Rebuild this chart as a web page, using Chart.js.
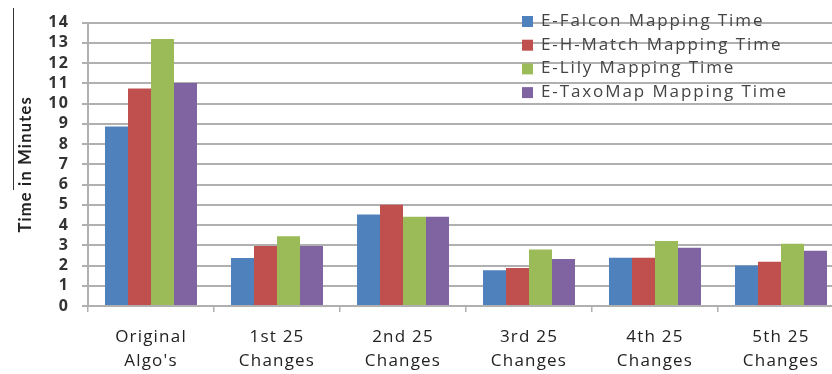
<!DOCTYPE html>
<html>
<head>
<meta charset="utf-8">
<script src="https://cdn.jsdelivr.net/npm/chart.js@4.4.0/dist/chart.umd.min.js"></script>
<style>
  html, body { margin: 0; padding: 0; background: #fff; overflow: hidden; }
  #wrap { width: 844px; height: 374px; }
</style>
</head>
<body>
<div id="wrap"><canvas id="chart" width="844" height="374"></canvas></div>
<script>
/* ---- data ---- */
var categories = [['Original', "Algo's"], ['1st 25', 'Changes'], ['2nd 25', 'Changes'],
                  ['3rd 25', 'Changes'], ['4th 25', 'Changes'], ['5th 25', 'Changes']];
var seriesNames = ['E-Falcon Mapping Time', 'E-H-Match Mapping Time', 'E-Lily Mapping Time', 'E-TaxoMap Mapping Time'];
var falcon  = [8.87, 2.37, 4.52, 1.76, 2.38, 2.0];
var hmatch  = [10.75, 2.97, 5.0, 1.88, 2.38, 2.19];
var lily    = [13.19, 3.44, 4.41, 2.79, 3.21, 3.08];
var taxomap = [11.02, 2.97, 4.41, 2.32, 2.88, 2.73];
var yTicks  = [0, 1, 2, 3, 4, 5, 6, 7, 8, 9, 10, 11, 12, 13, 14];

var colors = ['#4F81BD', '#C0504D', '#9BBB59', '#8064A2'];
var gridColor = '#b0b0b0';
var fontFamily = '"Open Sans", "DejaVu Sans", sans-serif';

var seriesValues = [falcon, hmatch, lily, taxomap];
var datasets = seriesNames.map(function(name, i) {
  return {
    label: name,
    data: seriesValues[i],
    backgroundColor: colors[i],
    borderWidth: 0,
    barPercentage: 1.0,
    categoryPercentage: 0.73
  };
});

// spread text a bit, draw the legend inside the plot and the stray line by the title
var extras = {
  id: 'extras',
  beforeDraw: function(chart) {
    chart.ctx.letterSpacing = '1.2px';
  },
  afterDraw: function(chart) {
    var ctx = chart.ctx;
    ctx.save();
    ctx.strokeStyle = '#333';
    ctx.lineWidth = 1;
    ctx.beginPath();
    ctx.moveTo(13.5, 8);
    ctx.lineTo(13.5, 190);
    ctx.stroke();

    ctx.font = '17px ' + fontFamily;
    ctx.letterSpacing = '1.9px';
    ctx.textBaseline = 'middle';
    ctx.textAlign = 'left';
    chart.data.datasets.forEach(function(ds, i) {
      var y = 21 + i * 23.7;
      ctx.fillStyle = ds.backgroundColor;
      ctx.fillRect(522, y - 5, 11, 11);
      ctx.fillStyle = '#444';
      ctx.fillText(ds.label, 541, y);
    });
    ctx.restore();
  }
};

new Chart(document.getElementById('chart'), {
  type: 'bar',
  data: { labels: categories, datasets: datasets },
  options: {
    responsive: false,
    animation: false,
    layout: { padding: { top: 14, right: 0, left: 0, bottom: 0 } },
    plugins: {
      legend: { display: false },
      tooltip: { enabled: false }
    },
    scales: {
      x: {
        afterFit: function(scale) { scale.height = 68; },
        grid: {
          display: true,
          drawOnChartArea: false,
          drawTicks: true,
          tickLength: 6,
          color: gridColor,
          lineWidth: 1.5
        },
        border: { color: gridColor, width: 2 },
        ticks: {
          autoSkip: false,
          maxRotation: 0,
          minRotation: 0,
          padding: 13,
          color: '#222',
          font: { family: fontFamily, size: 17, lineHeight: 1.4 }
        }
      },
      y: {
        min: 0,
        max: 14,
        afterFit: function(scale) { scale.width = 88; },
        afterBuildTicks: function(scale) {
          scale.ticks = yTicks.map(function(v) { return { value: v }; });
        },
        grid: {
          color: gridColor,
          lineWidth: 2,
          drawTicks: true,
          tickLength: 6
        },
        border: { color: gridColor, width: 2 },
        ticks: {
          autoSkip: false,
          stepSize: 1,
          padding: 13,
          color: '#333',
          font: { family: fontFamily, size: 16, weight: 'bold' }
        },
        title: {
          display: true,
          text: 'Time in Minutes',
          color: '#222',
          padding: { top: 16, bottom: 0 },
          font: { family: 'Lato, ' + fontFamily, size: 16.5, weight: 'bold' }
        }
      }
    }
  },
  plugins: [extras]
});
</script>
</body>
</html>
